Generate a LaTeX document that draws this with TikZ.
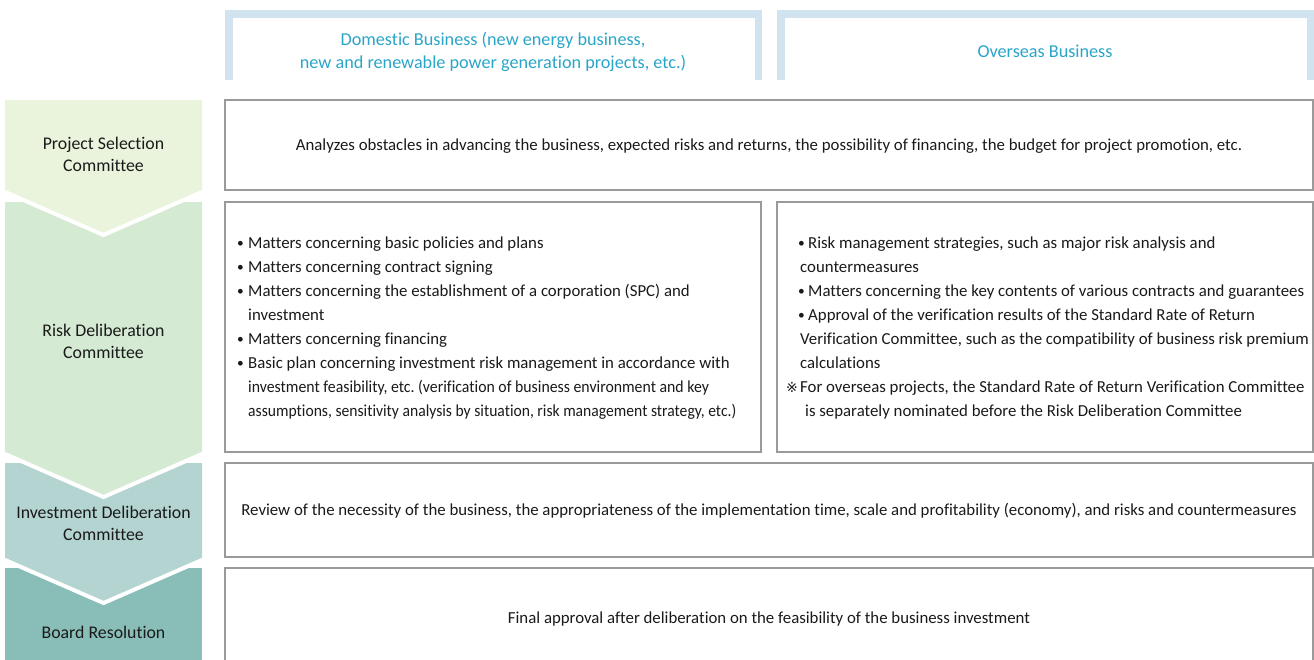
\documentclass[tikz,border=0pt]{standalone}
\usepackage{fontspec}
\setmainfont{Carlito}[Ligatures=NoCommon]
\newfontfamily\symfont{DejaVu Sans}
\definecolor{cA}{HTML}{EAF4DC}
\definecolor{cB}{HTML}{D4EAD3}
\definecolor{cC}{HTML}{B3D4D1}
\definecolor{cD}{HTML}{88BEB7}
\definecolor{hdr}{HTML}{D0E3EE}
\definecolor{hdrtxt}{HTML}{2AA5C8}
\definecolor{bord}{HTML}{9A9A9A}
\definecolor{txt}{HTML}{1A1A1A}
\newcommand{\bul}[1]{\makebox[#1][l]{\raisebox{0.5pt}{\scalebox{0.8}{•}}}}
\frenchspacing
\begin{document}
\begin{tikzpicture}[x=1pt,y=-1pt,
  lbl/.style={font=\fontsize{17.8}{22}\selectfont, text=txt, align=center, inner sep=0},
  boxtxt/.style={font=\fontsize{16.8}{24}\selectfont, text=txt, inner sep=0},
  hdrlbl/.style={font=\fontsize{18.2}{23}\selectfont, text=hdrtxt, align=center, inner sep=0},
  rowbox/.style={draw=bord, line width=1.2pt, fill=white},
  hdrframe/.style={draw=hdr, line width=7.5pt},
  gap/.style={draw=white, line width=4pt}]
\useasboundingbox (0,0) rectangle (1314,659);
% chevrons
\fill[cD] (5,568) -- (202,568) -- (202,665) -- (5,665) -- cycle;
\fill[cC] (5,463) -- (202,463) -- (202,558) -- (103.5,601) -- (5,558) -- cycle;
\draw[gap] (5,560) -- (103.5,603) -- (202,560);
\fill[cB] (5,202) -- (202,202) -- (202,452) -- (103.5,495) -- (5,452) -- cycle;
\draw[gap] (5,454) -- (103.5,497) -- (202,454);
\fill[cA] (5,100) -- (202,100) -- (202,190) -- (103.5,233) -- (5,190) -- cycle;
\draw[gap] (5,192) -- (103.5,235) -- (202,192);
\node[lbl] (c1) at (103.5,154) {Project Selection\\Committee};
\node[lbl] (c2) at (103.5,341) {Risk Deliberation\\Committee};
\node[lbl] (c3) at (103.5,523.5) {Investment Deliberation\\Committee};
\node[lbl] (c4) at (103.5,632) {Board Resolution};
% headers
\draw[hdrframe] (228.75,80) -- (228.75,13.75) -- (758.25,13.75) -- (758.25,80);
\draw[hdrframe] (780.75,80) -- (780.75,13.75) -- (1310.25,13.75) -- (1310.25,80);
\node[hdrlbl] (h1) at (493,52) {Domestic Business (new energy business,\\new and renewable power generation projects, etc.)};
\node[hdrlbl] (h2) at (1045,51) {Overseas Business};
% row boxes
\draw[rowbox] (225,100) rectangle (1313,190);
\node[boxtxt] (r1) at (769,146) {Analyzes obstacles in advancing the business, expected risks and returns, the possibility of financing, the budget for project promotion, etc.};
\draw[rowbox] (225,202) rectangle (761,452);
\draw[rowbox] (777,202) rectangle (1313,452);
\node[boxtxt, anchor=west, align=left] (r2a) at (237,328) {%
\bul{11pt}Matters concerning basic policies and plans\\
\bul{11pt}Matters concerning contract signing\\
\bul{11pt}Matters concerning the establishment of a corporation (SPC) and\\
\hspace*{11pt}investment\\
\bul{11pt}Matters concerning financing\\
\bul{11pt}Basic plan concerning investment risk management in accordance with\\
\hspace*{11pt}\scalebox{0.94}[1]{investment feasibility, etc. (verification of business environment and key}\\
\hspace*{11pt}\scalebox{0.93}[1]{assumptions, sensitivity analysis by situation, risk management strategy, etc.)}};
\node[boxtxt, anchor=west, align=left] (r2b) at (786,328) {%
\hspace*{12pt}\bul{10pt}Risk management strategies, such as major risk analysis and\\
\hspace*{14pt}countermeasures\\
\hspace*{12pt}\bul{10pt}Matters concerning the key contents of various contracts and guarantees\\
\hspace*{12pt}\bul{10pt}Approval of the verification results of the Standard Rate of Return\\
\hspace*{14pt}Verification Committee, such as the compatibility of business risk premium\\
\hspace*{14pt}calculations\\
\makebox[14pt][l]{\symfont\fontsize{14}{24}\selectfont ※}For overseas projects, the Standard Rate of Return Verification Committee\\
\hspace*{19pt}is separately nominated before the Risk Deliberation Committee};
\draw[rowbox] (225,463) rectangle (1313,557);
\node[boxtxt] (r3) at (769,511) {Review of the necessity of the business, the appropriateness of the implementation time, scale and profitability (economy), and risks and countermeasures};
\draw[rowbox] (225,568) rectangle (1313,680);
\node[boxtxt] (r4) at (769,619) {Final approval after deliberation on the feasibility of the business investment};
\end{tikzpicture}
\end{document}
